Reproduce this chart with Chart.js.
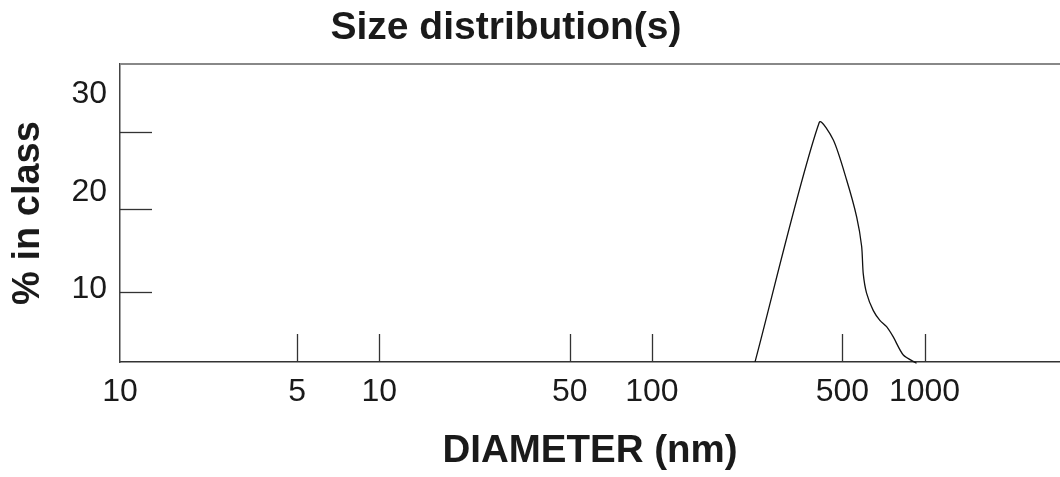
<!DOCTYPE html>
<html><head><meta charset="utf-8">
<script src="https://cdn.jsdelivr.net/npm/chart.js@4/dist/chart.umd.min.js"></script>
<style>html,body{margin:0;padding:0;background:#fff;overflow:hidden}#wrap{width:1060px;height:477px}</style>
</head><body><div id="wrap"><canvas id="c" width="1060" height="477"></canvas></div>
<script>
// ---- data ----
const diameterNm = [239, 411, 463, 518, 564, 588, 596, 613, 649, 686, 726, 768, 836, 935];
const percentInClass = [2.55, 27.1, 25.3, 21.2, 17.4, 14.4, 11.6, 9.6, 7.8, 6.8, 6.15, 5.1, 3.25, 2.4];
const xTickValues = [1.12, 5, 10, 50, 100, 500, 1000];
const xTickLabels = ['10', '5', '10', '50', '100', '500', '1000'];
const xTickMarkValues = [5, 10, 50, 100, 500, 1000];
const yTickValues = [10, 20, 30];
const yTickLabels = ['10', '20', '30'];
const yTickMarkValues = [9.7, 18.2, 26.1];

const FONT = "'Liberation Sans', Arial, Helvetica, sans-serif";
const TXT = '#1a1a1a';

const marksPlugin = {
  id: 'marks',
  afterDatasetsDraw(chart) {
    const {ctx, chartArea: a, scales: {x, y}} = chart;
    ctx.save();
    ctx.lineWidth = 1.3;
    ctx.strokeStyle = '#333';
    xTickMarkValues.forEach(v => {
      const px = Math.round(x.getPixelForValue(v)) + 0.5;
      ctx.beginPath(); ctx.moveTo(px, a.bottom); ctx.lineTo(px, a.bottom - 28); ctx.stroke();
    });
    yTickMarkValues.forEach(v => {
      const py = Math.round(y.getPixelForValue(v)) + 0.5;
      ctx.beginPath(); ctx.moveTo(a.left, py); ctx.lineTo(a.left + 32, py); ctx.stroke();
    });
    ctx.strokeStyle = '#888';
    ctx.lineWidth = 2;
    ctx.beginPath(); ctx.moveTo(a.left, a.top); ctx.lineTo(a.right, a.top); ctx.stroke();
    ctx.restore();
  }
};
const titleShift = {
  id: 'titleShift',
  afterLayout(chart) {
    const t = chart.titleBlock;
    if (t) { t.left = 0; t.right = 1012; }
  }
};

new Chart(document.getElementById('c'), {
  type: 'line',
  data: {
    datasets: [{
      data: diameterNm.map((d, i) => ({x: d, y: percentInClass[i]})),
      borderColor: '#111',
      borderWidth: 1.3,
      pointRadius: 0,
      tension: 0.25,
      fill: false,
      clip: false
    }]
  },
  options: {
    responsive: false,
    animation: false,
    devicePixelRatio: 1,
    layout: {padding: 0},
    plugins: {
      legend: {display: false},
      tooltip: {enabled: false},
      title: {
        display: true,
        text: 'Size distribution(s)',
        color: TXT,
        font: {family: FONT, size: 39, weight: 'bold', lineHeight: 1.2},
        padding: {top: 4.6, bottom: 12.6}
      }
    },
    scales: {
      x: {
        type: 'logarithmic',
        min: 1.12,
        max: 3140,
        afterFit(s) { s.height = 115; },
        afterBuildTicks(s) { s.ticks = xTickValues.map(v => ({value: v})); },
        grid: {display: false, drawTicks: false},
        border: {display: true, color: '#333', width: 1.5},
        ticks: {
          autoSkip: false, maxRotation: 0, padding: 11, color: TXT,
          font: {family: FONT, size: 32},
          callback(v) { const i = xTickValues.indexOf(v); return i >= 0 ? xTickLabels[i] : ''; }
        },
        title: {
          display: true, text: 'DIAMETER (nm)', color: TXT,
          font: {family: FONT, size: 38.5, weight: 'bold', lineHeight: 1.2},
          padding: {top: 0, bottom: 2.9}
        }
      },
      y: {
        type: 'linear',
        min: 2.53,
        max: 33.1,
        afterFit(s) { s.width = 120; },
        afterBuildTicks(s) { s.ticks = yTickValues.map(v => ({value: v})); },
        grid: {display: false, drawTicks: false},
        border: {display: true, color: '#444', width: 1.5},
        ticks: {
          padding: 13, color: TXT,
          font: {family: FONT, size: 32},
          callback(v) { const i = yTickValues.indexOf(v); return i >= 0 ? yTickLabels[i] : ''; }
        },
        title: {
          display: true, text: '% in class', color: TXT,
          font: {family: FONT, size: 38, weight: 'bold', lineHeight: 1.2},
          padding: {top: 6, bottom: 10}
        }
      }
    }
  },
  plugins: [marksPlugin, titleShift]
});
</script>
</body></html>
